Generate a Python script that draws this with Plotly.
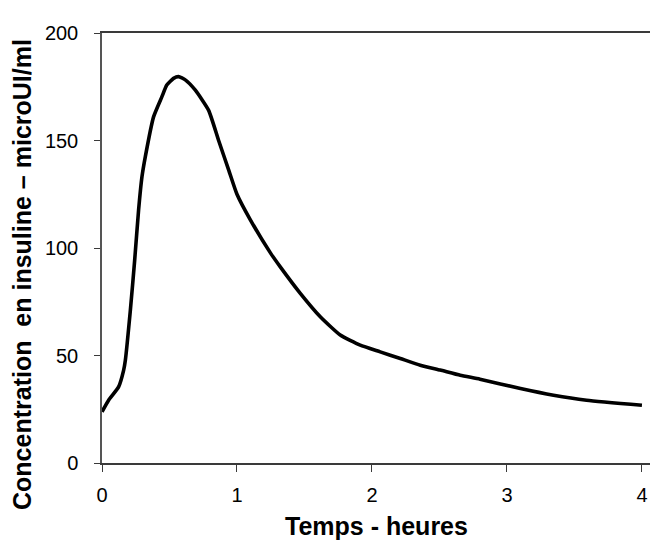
import plotly.graph_objects as go

# Time (hours) and insulin concentration (microUI/ml)
temps = [0.0, 0.049, 0.123, 0.16, 0.173, 0.21, 0.242, 0.271, 0.296, 0.321, 0.382,
         0.444, 0.48, 0.53, 0.567, 0.617, 0.69, 0.79, 0.864, 0.94, 1.0, 1.1, 1.25,
         1.322, 1.469, 1.617, 1.765, 1.913, 2.061, 2.21, 2.358, 2.506, 2.654, 2.8,
         3.1, 3.345, 3.59, 4.0]
insuline = [23.8, 29.2, 35.4, 43.1, 47.8, 71.0, 94.3, 117.6, 133.1, 142.5, 161.0,
            170.4, 175.8, 178.9, 179.7, 178.2, 173.5, 164.0, 150.0, 136.0, 125.0, 113.0, 97.5,
            91.1, 78.9, 68.0, 59.5, 54.8, 51.7, 48.6, 45.5, 43.2, 40.8, 39.0,
            34.6, 31.5, 29.2, 26.9]

x_ticks = [0, 1, 2, 3, 4]
y_ticks = [0, 50, 100, 150, 200]
x_title = "Temps - heures"
y_title = "Concentration  en insuline – microUI/ml"

FONT = "Arial, Liberation Sans, sans-serif"

fig = go.Figure()
fig.add_trace(go.Scatter(
    x=temps, y=insuline, mode="lines",
    line=dict(color="black", width=3.6, shape="spline", smoothing=0.5),
    showlegend=False, hoverinfo="skip",
))

tick_font = dict(family=FONT, size=20, color="black")

fig.update_layout(
    width=650, height=532,
    margin=dict(l=94, r=0, t=25, b=77),
    paper_bgcolor="white", plot_bgcolor="white",
    font=tick_font,
    xaxis=dict(
        range=[0, 4.119], tickvals=x_ticks, ticktext=[str(v) for v in x_ticks],
        showgrid=False, zeroline=False,
        showline=True, linecolor="#3a3a3a", linewidth=1.5, mirror=True,
        ticks="outside", ticklen=7, tickcolor="#3a3a3a", tickwidth=1,
        ticklabelstandoff=6, tickfont=tick_font,
    ),
    yaxis=dict(
        range=[0, 200], tickvals=y_ticks, ticktext=[str(v) for v in y_ticks],
        showgrid=False, zeroline=False,
        showline=True, linecolor="#555555", linewidth=1.5, mirror=False,
        ticks="outside", ticklen=6, tickcolor="#3a3a3a", tickwidth=1,
        ticklabelstandoff=12, tickfont=tick_font,
    ),
    annotations=[
        dict(text=f"<b>{x_title}</b>", xref="paper", yref="paper",
             x=0.4946, y=-0.1465, showarrow=False, xanchor="center", yanchor="middle",
             font=dict(family=FONT, size=25, color="black")),
        dict(text=f"<b>{y_title}</b>", xref="paper", yref="paper",
             x=-0.1439, y=0.4395, showarrow=False, xanchor="center", yanchor="middle",
             textangle=-90,
             font=dict(family=FONT, size=25, color="black")),
    ],
)

fig.write_html("out.html")
